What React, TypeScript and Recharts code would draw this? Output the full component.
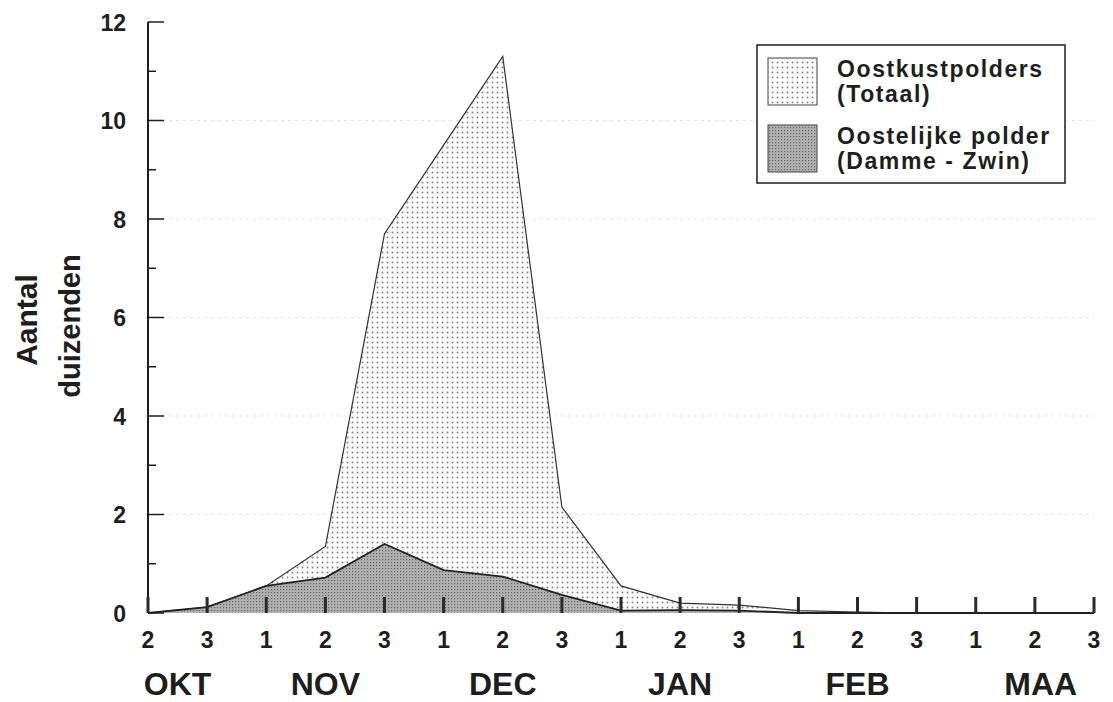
import React from "react";
import { AreaChart, Area, XAxis, YAxis, CartesianGrid } from "recharts";

// decade (1/2/3) per month, oct -> march
const periods = ["2", "3", "1", "2", "3", "1", "2", "3", "1", "2", "3", "1", "2", "3", "1", "2", "3"];
const totaal = [0, 0.12, 0.55, 1.35, 7.7, 9.5, 11.3, 2.15, 0.55, 0.2, 0.16, 0.05, 0.02, 0, 0, 0, 0];
const dammeZwin = [0, 0.12, 0.55, 0.72, 1.4, 0.87, 0.74, 0.37, 0.05, 0.06, 0.05, 0, 0, 0, 0, 0, 0];

const months = ["OKT", "NOV", "DEC", "JAN", "FEB", "MAA"];
const monthAt = [0.5, 3, 6, 9, 12, 15.1];

const yTicks = [0, 1, 2, 3, 4, 5, 6, 7, 8, 9, 10, 11, 12];
const gridValues = [2, 4, 6, 8, 10];

const seriesNames = [
  ["Oostkustpolders", "(Totaal)"],
  ["Oostelijke polder", "(Damme - Zwin)"],
];

const data = periods.map((p, i) => ({
  idx: i,
  period: p,
  totaal: totaal[i],
  damme: dammeZwin[i],
}));

const periodTicks = periods.map((_, i) => i);

const FONT = "'Liberation Sans', Arial, Helvetica, sans-serif";
const INK = "#1e1e1e";

const PeriodTick = (props: any) => {
  const { x, y, payload } = props;
  const px = Number(x);
  const py = Number(y);
  return (
    <g>
      {/* inward tick mark */}
      <rect x={px - 1.5} y={py - 16} width={3} height={16} fill="#2a2a2a" />
      <text x={px} y={py + 35} textAnchor="middle" fontFamily={FONT} fontWeight="bold" fontSize={23} fill={INK}>
        {periods[payload.value]}
      </text>
    </g>
  );
};

const MonthTick = (props: any) => {
  const { x, y, payload } = props;
  const i = monthAt.indexOf(payload.value);
  return (
    <text x={x} y={Number(y) + 42} textAnchor="middle" fontFamily={FONT} fontWeight="bold" fontSize={32} fill={INK}>
      {months[i]}
    </text>
  );
};

const ValueTick = (props: any) => {
  const { x, y, payload } = props;
  const major = payload.value % 2 === 0;
  return (
    <g>
      <path d={`M${x},${y}H${Number(x) + (major ? 16 : 8)}`} stroke={INK} strokeWidth={1.5} fill="none" />
      {major && (
        <text x={Number(x) - 22} y={Number(y) + 8.5} textAnchor="end" fontFamily={FONT} fontWeight="bold" fontSize={23} fill={INK}>
          {payload.value}
        </text>
      )}
    </g>
  );
};

export default function App() {
  return (
    <div style={{ position: "absolute", left: 0, top: 0, width: 1113, height: 702, background: "#fff" }}>
      <AreaChart width={1113} height={702} data={data} margin={{ top: 22, right: 19, left: 0, bottom: 1 }}>
        <defs>
          <pattern id="dotsLight" width={5} height={5} patternUnits="userSpaceOnUse">
            <rect width={5} height={5} fill="#fbfbfb" />
            <circle cx={2.5} cy={2.5} r={0.95} fill="#878787" />
          </pattern>
          <pattern id="dotsDark" width={3} height={3} patternUnits="userSpaceOnUse">
            <rect width={3} height={3} fill="#b0b0b0" />
            <rect x={1} y={1} width={1.2} height={1.2} fill="#666" />
          </pattern>
        </defs>
        <CartesianGrid horizontal vertical={false} horizontalValues={gridValues} stroke="#e2e2e2" strokeDasharray="3 4" />
        <Area
          type="linear"
          dataKey="totaal"
          name="Oostkustpolders (Totaal)"
          stroke="#333"
          strokeWidth={1.2}
          fill="url(#dotsLight)"
          fillOpacity={1}
          isAnimationActive={false}
        />
        <Area
          type="linear"
          dataKey="damme"
          name="Oostelijke polder (Damme - Zwin)"
          stroke="#222"
          strokeWidth={1.8}
          fill="url(#dotsDark)"
          fillOpacity={1}
          isAnimationActive={false}
        />
        {/* bottom frame line */}
        <XAxis
          dataKey="idx"
          type="number"
          domain={[0, 16]}
          height={0}
          tick={false}
          tickLine={false}
          axisLine={{ stroke: INK, strokeWidth: 2 }}
        />
        <XAxis
          xAxisId="b1periods"
          dataKey="idx"
          type="number"
          domain={[0, 16]}
          ticks={periodTicks}
          interval={0}
          height={40}
          tickSize={0}
          tickMargin={0}
          tick={<PeriodTick />}
          tickLine={false}
          axisLine={false}
        />
        <XAxis
          xAxisId="b2months"
          dataKey="idx"
          type="number"
          domain={[0, 16]}
          ticks={monthAt}
          interval={0}
          height={48}
          tickSize={0}
          tickMargin={0}
          tick={<MonthTick />}
          axisLine={false}
          tickLine={false}
        />
        <XAxis
          xAxisId="top"
          orientation="top"
          dataKey="idx"
          type="number"
          domain={[0, 16]}
          height={0}
          tick={false}
          tickLine={false}
          axisLine={{ stroke: INK, strokeWidth: 2 }}
        />
        <YAxis
          width={148}
          domain={[0, 12]}
          ticks={yTicks}
          interval={0}
          tickSize={0}
          tickMargin={0}
          tick={<ValueTick />}
          axisLine={{ stroke: INK, strokeWidth: 2 }}
        />
        <YAxis
          yAxisId="right"
          orientation="right"
          width={0}
          domain={[0, 12]}
          tick={false}
          tickLine={false}
          axisLine={{ stroke: INK, strokeWidth: 2 }}
        />
      </AreaChart>

      <svg width={1113} height={702} style={{ position: "absolute", left: 0, top: 0, pointerEvents: "none" }}>
        <defs>
          <pattern id="lgLight" width={5} height={5} patternUnits="userSpaceOnUse">
            <rect width={5} height={5} fill="#fbfbfb" />
            <circle cx={2.5} cy={2.5} r={0.95} fill="#878787" />
          </pattern>
          <pattern id="lgDark" width={3} height={3} patternUnits="userSpaceOnUse">
            <rect width={3} height={3} fill="#b0b0b0" />
            <rect x={1} y={1} width={1.2} height={1.2} fill="#666" />
          </pattern>
        </defs>
        {/* y axis title */}
        <text transform="translate(37,320) rotate(-90)" textAnchor="middle" fontFamily={FONT} fontWeight="bold" fontSize={30} fill={INK}>
          Aantal
        </text>
        <text transform="translate(80,326) rotate(-90)" textAnchor="middle" fontFamily={FONT} fontWeight="bold" fontSize={29} fill={INK}>
          duizenden
        </text>
        {/* legend */}
        <rect x={757} y={45} width={308} height={138} fill="#fff" stroke={INK} strokeWidth={1.5} />
        {seriesNames.map((lines, i) => (
          <g key={i}>
            <rect x={768} y={58 + i * 67} width={49} height={47} fill={i === 0 ? "url(#lgLight)" : "url(#lgDark)"} stroke="#444" strokeWidth={1} />
            {lines.map((t, j) => (
              <text key={j} x={837} y={77 + i * 67 + j * 25} fontFamily={FONT} fontWeight="bold" fontSize={23} letterSpacing={1.6} fill={INK}>
                {t}
              </text>
            ))}
          </g>
        ))}
      </svg>
    </div>
  );
}
